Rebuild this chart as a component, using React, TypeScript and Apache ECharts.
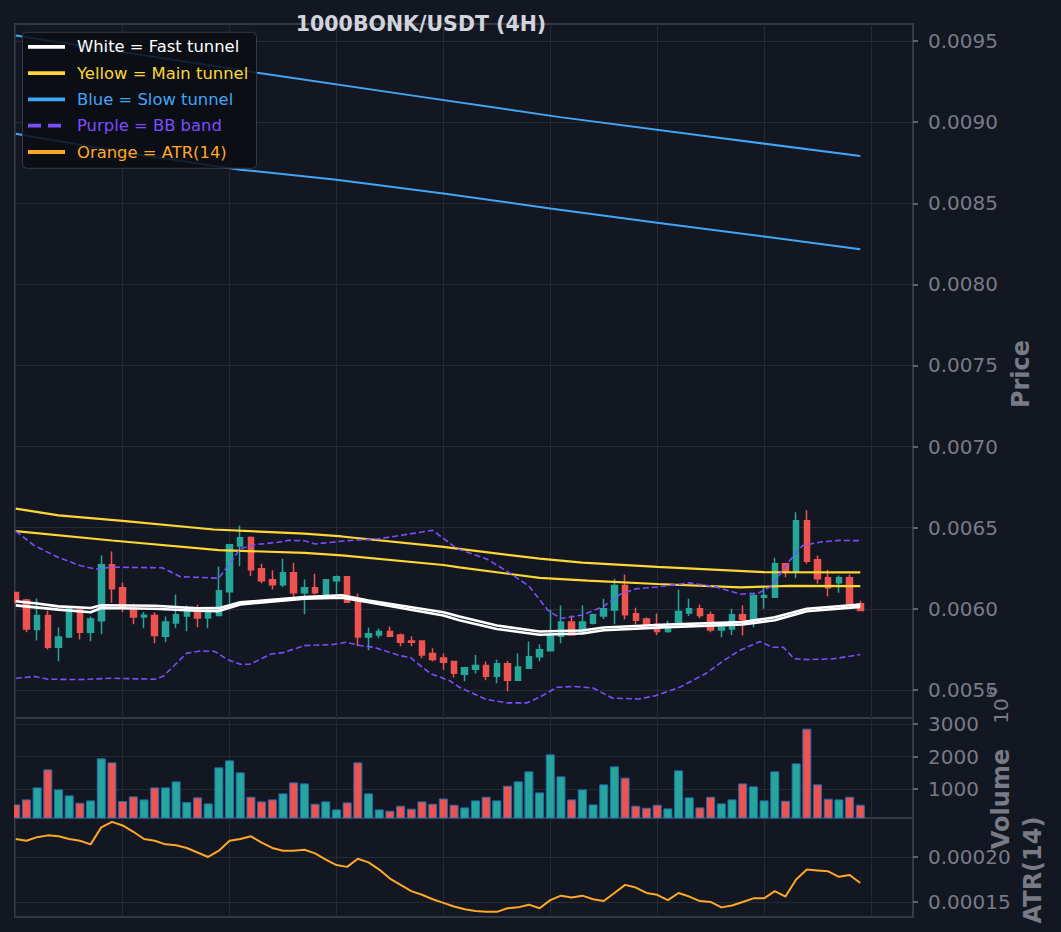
import React, { useEffect, useRef } from 'react';
import * as echarts from 'echarts';

const TITLE = '1000BONK/USDT (4H)';

// ---- candles (index 0..79), prices in USDT ----
const opens = [
  0.006100, 0.006055, 0.005872, 0.005959, 0.005763, 0.005827, 0.005996, 0.005856, 0.005926, 0.006272,
  0.006130, 0.006004, 0.005950, 0.005959, 0.005831, 0.005913, 0.005955, 0.005979, 0.005944, 0.005959,
  0.006105, 0.006387, 0.006440, 0.006247, 0.006179, 0.006148, 0.006222, 0.006099, 0.006130, 0.006090,
  0.006173, 0.006197, 0.006049, 0.005827, 0.005839, 0.005860, 0.005839, 0.005802, 0.005802, 0.005724,
  0.005697, 0.005675, 0.005597, 0.005627, 0.005650, 0.005584, 0.005662, 0.005560, 0.005634, 0.005704,
  0.005741, 0.005831, 0.005918, 0.005856, 0.005911, 0.005955, 0.005992, 0.006144, 0.005969, 0.005938,
  0.005905, 0.005860, 0.005901, 0.005975, 0.006000, 0.005963, 0.005870, 0.005876, 0.005963, 0.005932,
  0.006072, 0.006072, 0.006278, 0.006226, 0.006543, 0.006302, 0.006191, 0.006160, 0.006191, 0.006031,
];
const closes = [
  0.006045, 0.005876, 0.005959, 0.005763, 0.005827, 0.006006, 0.005856, 0.005938, 0.006272, 0.006123,
  0.006004, 0.005950, 0.005961, 0.005835, 0.005918, 0.005963, 0.005983, 0.005944, 0.005979, 0.006111,
  0.006395, 0.006438, 0.006241, 0.006173, 0.006148, 0.006222, 0.006099, 0.006130, 0.006099, 0.006179,
  0.006197, 0.006041, 0.005827, 0.005846, 0.005860, 0.005831, 0.005794, 0.005794, 0.005716, 0.005687,
  0.005671, 0.005603, 0.005636, 0.005650, 0.005584, 0.005662, 0.005560, 0.005642, 0.005704, 0.005747,
  0.005831, 0.005918, 0.005839, 0.005918, 0.005963, 0.006000, 0.006144, 0.005963, 0.005930, 0.005903,
  0.005860, 0.005893, 0.005983, 0.006000, 0.005959, 0.005870, 0.005887, 0.005963, 0.005932, 0.006082,
  0.006082, 0.006278, 0.006226, 0.006543, 0.006294, 0.006185, 0.006130, 0.006191, 0.006031, 0.005990,
];
const highs = [
  0.006100, 0.006062, 0.006064, 0.005988, 0.005885, 0.006010, 0.006004, 0.005953, 0.006329, 0.006354,
  0.006162, 0.006031, 0.005981, 0.005979, 0.005953, 0.006088, 0.006020, 0.006025, 0.006006, 0.006261,
  0.006398, 0.006514, 0.006446, 0.006278, 0.006237, 0.006309, 0.006284, 0.006181, 0.006216, 0.006182,
  0.006206, 0.006200, 0.006095, 0.005885, 0.005878, 0.005891, 0.005848, 0.005831, 0.005802, 0.005757,
  0.005724, 0.005675, 0.005640, 0.005716, 0.005675, 0.005687, 0.005679, 0.005724, 0.005798, 0.005782,
  0.005994, 0.006020, 0.005959, 0.006020, 0.005969, 0.006062, 0.006185, 0.006212, 0.006006, 0.005946,
  0.005971, 0.005926, 0.006117, 0.006062, 0.006027, 0.005983, 0.005918, 0.006000, 0.006020, 0.006093,
  0.006144, 0.006315, 0.006284, 0.006595, 0.006607, 0.006329, 0.006241, 0.006206, 0.006212, 0.006049,
];
const lows = [
  0.006030, 0.005856, 0.005804, 0.005749, 0.005677, 0.005820, 0.005811, 0.005800, 0.005843, 0.006037,
  0.005979, 0.005905, 0.005881, 0.005788, 0.005794, 0.005881, 0.005862, 0.005887, 0.005881, 0.005955,
  0.006031, 0.006263, 0.006202, 0.006158, 0.006119, 0.006134, 0.006076, 0.005967, 0.006088, 0.006082,
  0.006088, 0.006037, 0.005769, 0.005745, 0.005819, 0.005831, 0.005769, 0.005769, 0.005695, 0.005675,
  0.005625, 0.005576, 0.005553, 0.005601, 0.005560, 0.005541, 0.005492, 0.005560, 0.005629, 0.005677,
  0.005741, 0.005788, 0.005835, 0.005846, 0.005903, 0.005938, 0.005905, 0.005934, 0.005903, 0.005876,
  0.005839, 0.005852, 0.005901, 0.005955, 0.005942, 0.005856, 0.005825, 0.005839, 0.005835, 0.005887,
  0.006000, 0.006066, 0.006195, 0.006189, 0.006278, 0.006154, 0.006078, 0.006099, 0.006031, 0.005990,
];

// ---- volume (axis shows units of 10^6) ----
const volumes = [
  528, 682, 1051, 1605, 990, 805, 579, 651, 1944, 1821,
  631, 774, 682, 1051, 1051, 1236, 600, 744, 559, 1667,
  1882, 1513, 764, 620, 682, 867, 1205, 1174, 549, 620,
  374, 590, 1821, 867, 374, 333, 487, 395, 620, 549,
  708, 518, 436, 651, 764, 651, 1103, 1236, 1544, 897,
  2067, 1390, 682, 990, 528, 1144, 1698, 1349, 487, 426,
  518, 405, 1575, 744, 436, 764, 559, 682, 1174, 1082,
  651, 1544, 641, 1790, 2857, 1144, 703, 682, 764, 518,
];

// ---- ATR(14) ----
const atr = [
  0.000220, 0.000218, 0.000222, 0.000224, 0.000223, 0.000220, 0.000218, 0.000214, 0.000233, 0.000239,
  0.000235, 0.000228, 0.000220, 0.000218, 0.000214, 0.000213, 0.000210, 0.000205, 0.000200, 0.000207,
  0.000218, 0.000220, 0.000223, 0.000216, 0.000210, 0.000207, 0.000207, 0.000208, 0.000204, 0.000197,
  0.000191, 0.000189, 0.000198, 0.000194, 0.000186, 0.000176, 0.000169, 0.000162, 0.000158, 0.000153,
  0.000149, 0.000145, 0.000142, 0.000140, 0.000139, 0.000139, 0.000143, 0.000144, 0.000147, 0.000143,
  0.000152, 0.000157, 0.000155, 0.000157, 0.000153, 0.000151, 0.000160, 0.000169, 0.000166, 0.000160,
  0.000158, 0.000152, 0.000160, 0.000156, 0.000151, 0.000150, 0.000144, 0.000146, 0.000150, 0.000154,
  0.000154, 0.000162, 0.000156, 0.000175, 0.000186, 0.000185, 0.000184, 0.000178, 0.000180, 0.000171,
];

// ---- overlay lines, [candle index, price] points ----
const fastUpper: [number, number][] = [
  [0, 0.006047], [2, 0.006033], [4, 0.006015], [7, 0.006005], [8, 0.006022], [13, 0.006019], [17, 0.006003],
  [19, 0.006004], [21, 0.006040], [27, 0.006072], [30.5, 0.006084], [33, 0.006051], [40, 0.005979],
  [41.5, 0.005952], [45, 0.005897], [49, 0.005860], [53, 0.005866], [55, 0.005885], [61, 0.005903],
  [68, 0.005918], [71, 0.005948], [74, 0.006000], [79, 0.006027],
];
const fastLower: [number, number][] = [
  [0, 0.006021], [4, 0.005995], [7, 0.005979], [8, 0.006005], [13, 0.006000], [17, 0.005988], [19, 0.005986],
  [21, 0.006027], [27, 0.006062], [30.5, 0.006068], [33, 0.006040], [40, 0.005959], [41.5, 0.005930],
  [45, 0.005876], [49, 0.005840], [53, 0.005848], [55, 0.005868], [61, 0.005887], [68, 0.005903],
  [71, 0.005930], [74, 0.005985], [79, 0.006012],
];
const mainUpper: [number, number][] = [
  [0, 0.006618], [4, 0.006576], [10, 0.006542], [18.5, 0.006489], [27, 0.006463], [30.5, 0.006446],
  [40, 0.006382], [49, 0.006309], [53, 0.006285], [60, 0.006258], [70, 0.006226], [79, 0.006225],
];
const mainLower: [number, number][] = [
  [0, 0.006479], [9, 0.006421], [19, 0.006362], [27, 0.006345], [30.5, 0.006330], [40, 0.006270],
  [41.5, 0.006255], [49, 0.006191], [53.5, 0.006174], [60, 0.006153], [67.8, 0.006132], [72.3, 0.006141],
  [79, 0.006140],
];
const slowUpper: [number, number][] = [
  [0, 0.009534], [10, 0.009433], [22.6, 0.009305], [37, 0.009165], [50.9, 0.009031], [65, 0.008910],
  [79, 0.008791],
];
const slowLower: [number, number][] = [
  [0, 0.008928], [10, 0.008815], [21, 0.008707], [30, 0.008645], [40, 0.008560], [50, 0.008468],
  [60, 0.008380], [70, 0.008295], [79, 0.008216],
];
const bbUpper: [number, number][] = [
  [0, 0.006479], [1.7, 0.006391], [3.9, 0.006319], [6, 0.006267], [7.5, 0.006245], [9, 0.006257],
  [13.7, 0.006253], [15.4, 0.006198], [19, 0.006189], [21, 0.006370], [22.3, 0.006395], [24.5, 0.006410],
  [25.5, 0.006422], [27, 0.006420], [28, 0.006400], [31, 0.006420], [34, 0.006432], [39, 0.006484],
  [41.3, 0.006370], [44, 0.006309], [46, 0.006230], [48, 0.006140], [49.8, 0.005990], [51, 0.005940],
  [53, 0.005962], [55, 0.006015], [56.5, 0.006088], [58, 0.006123], [60, 0.006135], [63, 0.006160],
  [65.5, 0.006135], [67.8, 0.006090], [69.5, 0.006098], [70.7, 0.006140], [72.3, 0.006290],
  [73.6, 0.006390], [75.3, 0.006412], [77, 0.006422], [79, 0.006420],
];
const bbLower: [number, number][] = [
  [0, 0.005572], [1.8, 0.005583], [3, 0.005566], [6, 0.005564], [9, 0.005572], [13, 0.005566],
  [13.8, 0.005585], [14.5, 0.005629], [16, 0.005727], [17.3, 0.005740], [18.6, 0.005738], [19.8, 0.005687],
  [21, 0.005658], [21.9, 0.005658], [23.9, 0.005722], [25, 0.005730], [27, 0.005773], [29.7, 0.005780],
  [30.9, 0.005794], [32.2, 0.005774], [33.5, 0.005763], [35.9, 0.005712], [36.9, 0.005700],
  [38.8, 0.005600], [40.6, 0.005557], [41.5, 0.005516], [44, 0.005442], [46, 0.005420], [47.8, 0.005420],
  [49, 0.005455], [50.6, 0.005516], [52.2, 0.005522], [54, 0.005512], [55.8, 0.005450], [58.3, 0.005444],
  [59.9, 0.005465], [62.1, 0.005516], [64.6, 0.005603], [66.2, 0.005680], [67.7, 0.005743],
  [69.6, 0.005798], [70.8, 0.005763], [71.8, 0.005763], [72.8, 0.005693], [73.9, 0.005687],
  [76.4, 0.005691], [79, 0.005718],
];

// ---- axis ticks ----
const priceTicks = [0.0055, 0.006, 0.0065, 0.007, 0.0075, 0.008, 0.0085, 0.009, 0.0095];
const volumeTicks = [1000, 2000, 3000];
const atrTicks = [0.00015, 0.0002];

const legendItems = [
  { label: 'White = Fast tunnel', color: '#ffffff', dash: null as number[] | null },
  { label: 'Yellow = Main tunnel', color: '#fdd835', dash: null },
  { label: 'Blue = Slow tunnel', color: '#42a5f5', dash: null },
  { label: 'Purple = BB band', color: '#7c4dff', dash: [13, 7] },
  { label: 'Orange = ATR(14)', color: '#ffa726', dash: null },
];

const BG = '#131722';
const FRAME = '#363a45';
const GRIDLINE = '#262a35';
const TICKTEXT = '#787b86';
const UP = '#26a69a';
const DOWN = '#ef5350';
const FONT = '"DejaVu Sans"';

export default function App() {
  const ref = useRef<HTMLDivElement>(null);

  useEffect(() => {
    document.body.style.margin = '0';
    document.body.style.background = BG;
    if (!ref.current) return;
    const chart = echarts.init(ref.current, undefined, { renderer: 'svg' });

    const candleData = opens.map((o, i) => [i, o, closes[i], lows[i], highs[i]]);
    const volumeData = volumes.map((v, i) => ({
      value: [i, v],
      itemStyle: { color: closes[i] >= opens[i] ? UP : DOWN },
    }));
    const atrData = atr.map((v, i) => [i, v]);

    const gridBase = {
      left: 15,
      right: 148,
      show: true,
      borderColor: FRAME,
      borderWidth: 2,
      backgroundColor: 'transparent',
    };

    const xAxisBase = (g: number) => ({
      type: 'value',
      gridIndex: g,
      min: -0.07,
      max: 83.93,
      minInterval: 10,
      maxInterval: 10,
      axisLine: { show: false },
      axisTick: { show: false },
      axisLabel: { show: false },
      splitLine: { show: true, lineStyle: { color: GRIDLINE, width: 1 } },
    });

    const yAxisBase = (
      g: number,
      min: number,
      max: number,
      step: number,
      ticks: number[],
      fmt: (v: number) => string
    ) => ({
      type: 'value',
      gridIndex: g,
      position: 'right',
      min,
      max,
      minInterval: step,
      maxInterval: step,
      axisLine: { show: true, onZero: false, lineStyle: { color: FRAME, width: 2 } },
      axisTick: {
        show: true,
        length: 5,
        customValues: ticks,
        lineStyle: { color: TICKTEXT, width: 1.5 },
      },
      axisLabel: {
        show: true,
        customValues: ticks,
        color: TICKTEXT,
        fontSize: 20,
        fontFamily: FONT,
        margin: 15,
        formatter: (v: number) => fmt(v),
      },
      splitLine: { show: true, lineStyle: { color: GRIDLINE, width: 1 } },
    });

    const lineSeries = (data: [number, number][], color: string, width: number, dash?: number[]) => ({
      type: 'line',
      xAxisIndex: 0,
      yAxisIndex: 0,
      data,
      showSymbol: false,
      symbol: 'none',
      silent: true,
      z: 3,
      lineStyle: { color, width, type: dash ? dash : 'solid' },
    });

    const graphics: any[] = [
      // mask to the left of the plotting frame (marks half outside the first index)
      {
        type: 'rect',
        shape: { x: 0, y: 0, width: 14, height: 932 },
        style: { fill: BG },
        z: 90,
      },
      {
        type: 'text',
        x: 421,
        y: 23.5,
        style: {
          text: TITLE,
          fill: '#d1d4dc',
          font: `bold 20.5px ${FONT}`,
          textAlign: 'center',
          textVerticalAlign: 'middle',
          align: 'center',
          verticalAlign: 'middle',
        },
        z: 100,
      },
      {
        type: 'rect',
        shape: { x: 22.5, y: 32.3, width: 234, height: 136, r: 4 },
        style: { fill: 'rgba(11,13,19,0.86)', stroke: '#353945', lineWidth: 1 },
        z: 100,
      },
    ];
    legendItems.forEach((it, k) => {
      const yy = 46.8 + k * 26.3;
      graphics.push({
        type: 'line',
        shape: { x1: 28, y1: yy, x2: 65, y2: yy },
        style: { stroke: it.color, lineWidth: 3.8, lineDash: it.dash || undefined },
        z: 101,
      });
      graphics.push({
        type: 'text',
        x: 77,
        y: yy,
        style: {
          text: it.label,
          fill: it.color,
          font: `16.4px ${FONT}`,
          textAlign: 'left',
          textVerticalAlign: 'middle',
          align: 'left',
          verticalAlign: 'middle',
        },
        z: 101,
      });
    });
    const vText = (text: string, x: number, y: number, font: string) => ({
      type: 'text',
      x,
      y,
      rotation: Math.PI / 2,
      style: {
        text,
        fill: TICKTEXT,
        font,
        textAlign: 'center',
        textVerticalAlign: 'middle',
        align: 'center',
        verticalAlign: 'middle',
      },
      z: 100,
    });
    graphics.push(vText('Price', 1021, 374, `bold 24px ${FONT}`));
    graphics.push(vText('Volume', 1001, 799, `bold 24px ${FONT}`));
    graphics.push(vText('ATR(14)', 1033, 870, `bold 24px ${FONT}`));
    graphics.push(vText('10', 1001, 711, `20px ${FONT}`));
    graphics.push(vText('6', 992, 691, `14px ${FONT}`));

    const option: any = {
      animation: false,
      backgroundColor: BG,
      grid: [
        { ...gridBase, top: 24, height: 694 },
        { ...gridBase, top: 718, height: 100 },
        { ...gridBase, top: 818, height: 99 },
      ],
      xAxis: [xAxisBase(0), xAxisBase(1), xAxisBase(2)],
      yAxis: [
        yAxisBase(0, 0.005327, 0.009605, 0.0005, priceTicks, (v) => v.toFixed(4)),
        yAxisBase(1, 110, 3185, 1000, volumeTicks, (v) => String(Math.round(v))),
        yAxisBase(2, 0.0001333, 0.0002433, 0.00005, atrTicks, (v) => v.toFixed(5)),
      ],
      graphic: graphics,
      series: [
        {
          type: 'candlestick',
          xAxisIndex: 0,
          yAxisIndex: 0,
          data: candleData,
          barWidth: 6,
          clip: true,
          silent: true,
          itemStyle: {
            color: UP,
            color0: DOWN,
            borderColor: UP,
            borderColor0: DOWN,
            borderWidth: 1.5,
          },
        },
        lineSeries(slowUpper, '#42a5f5', 2),
        lineSeries(slowLower, '#42a5f5', 2),
        lineSeries(mainUpper, '#fdd835', 2.2),
        lineSeries(mainLower, '#fdd835', 2.2),
        lineSeries(bbUpper, '#7c4dff', 1.6, [6, 3]),
        lineSeries(bbLower, '#7c4dff', 1.6, [6, 3]),
        lineSeries(fastUpper, '#ffffff', 2.6),
        lineSeries(fastLower, '#ffffff', 2.6),
        {
          type: 'bar',
          xAxisIndex: 1,
          yAxisIndex: 1,
          data: volumeData,
          barWidth: 9,
          clip: true,
          silent: true,
          itemStyle: { borderColor: '#1f6fb4', borderWidth: 1 },
        },
        {
          type: 'line',
          xAxisIndex: 2,
          yAxisIndex: 2,
          data: atrData,
          showSymbol: false,
          symbol: 'none',
          silent: true,
          lineStyle: { color: '#ffa726', width: 2 },
        },
      ],
    };

    chart.setOption(option);
    return () => {
      chart.dispose();
    };
  }, []);

  return <div ref={ref} style={{ width: 1061, height: 932, background: BG }} />;
}
